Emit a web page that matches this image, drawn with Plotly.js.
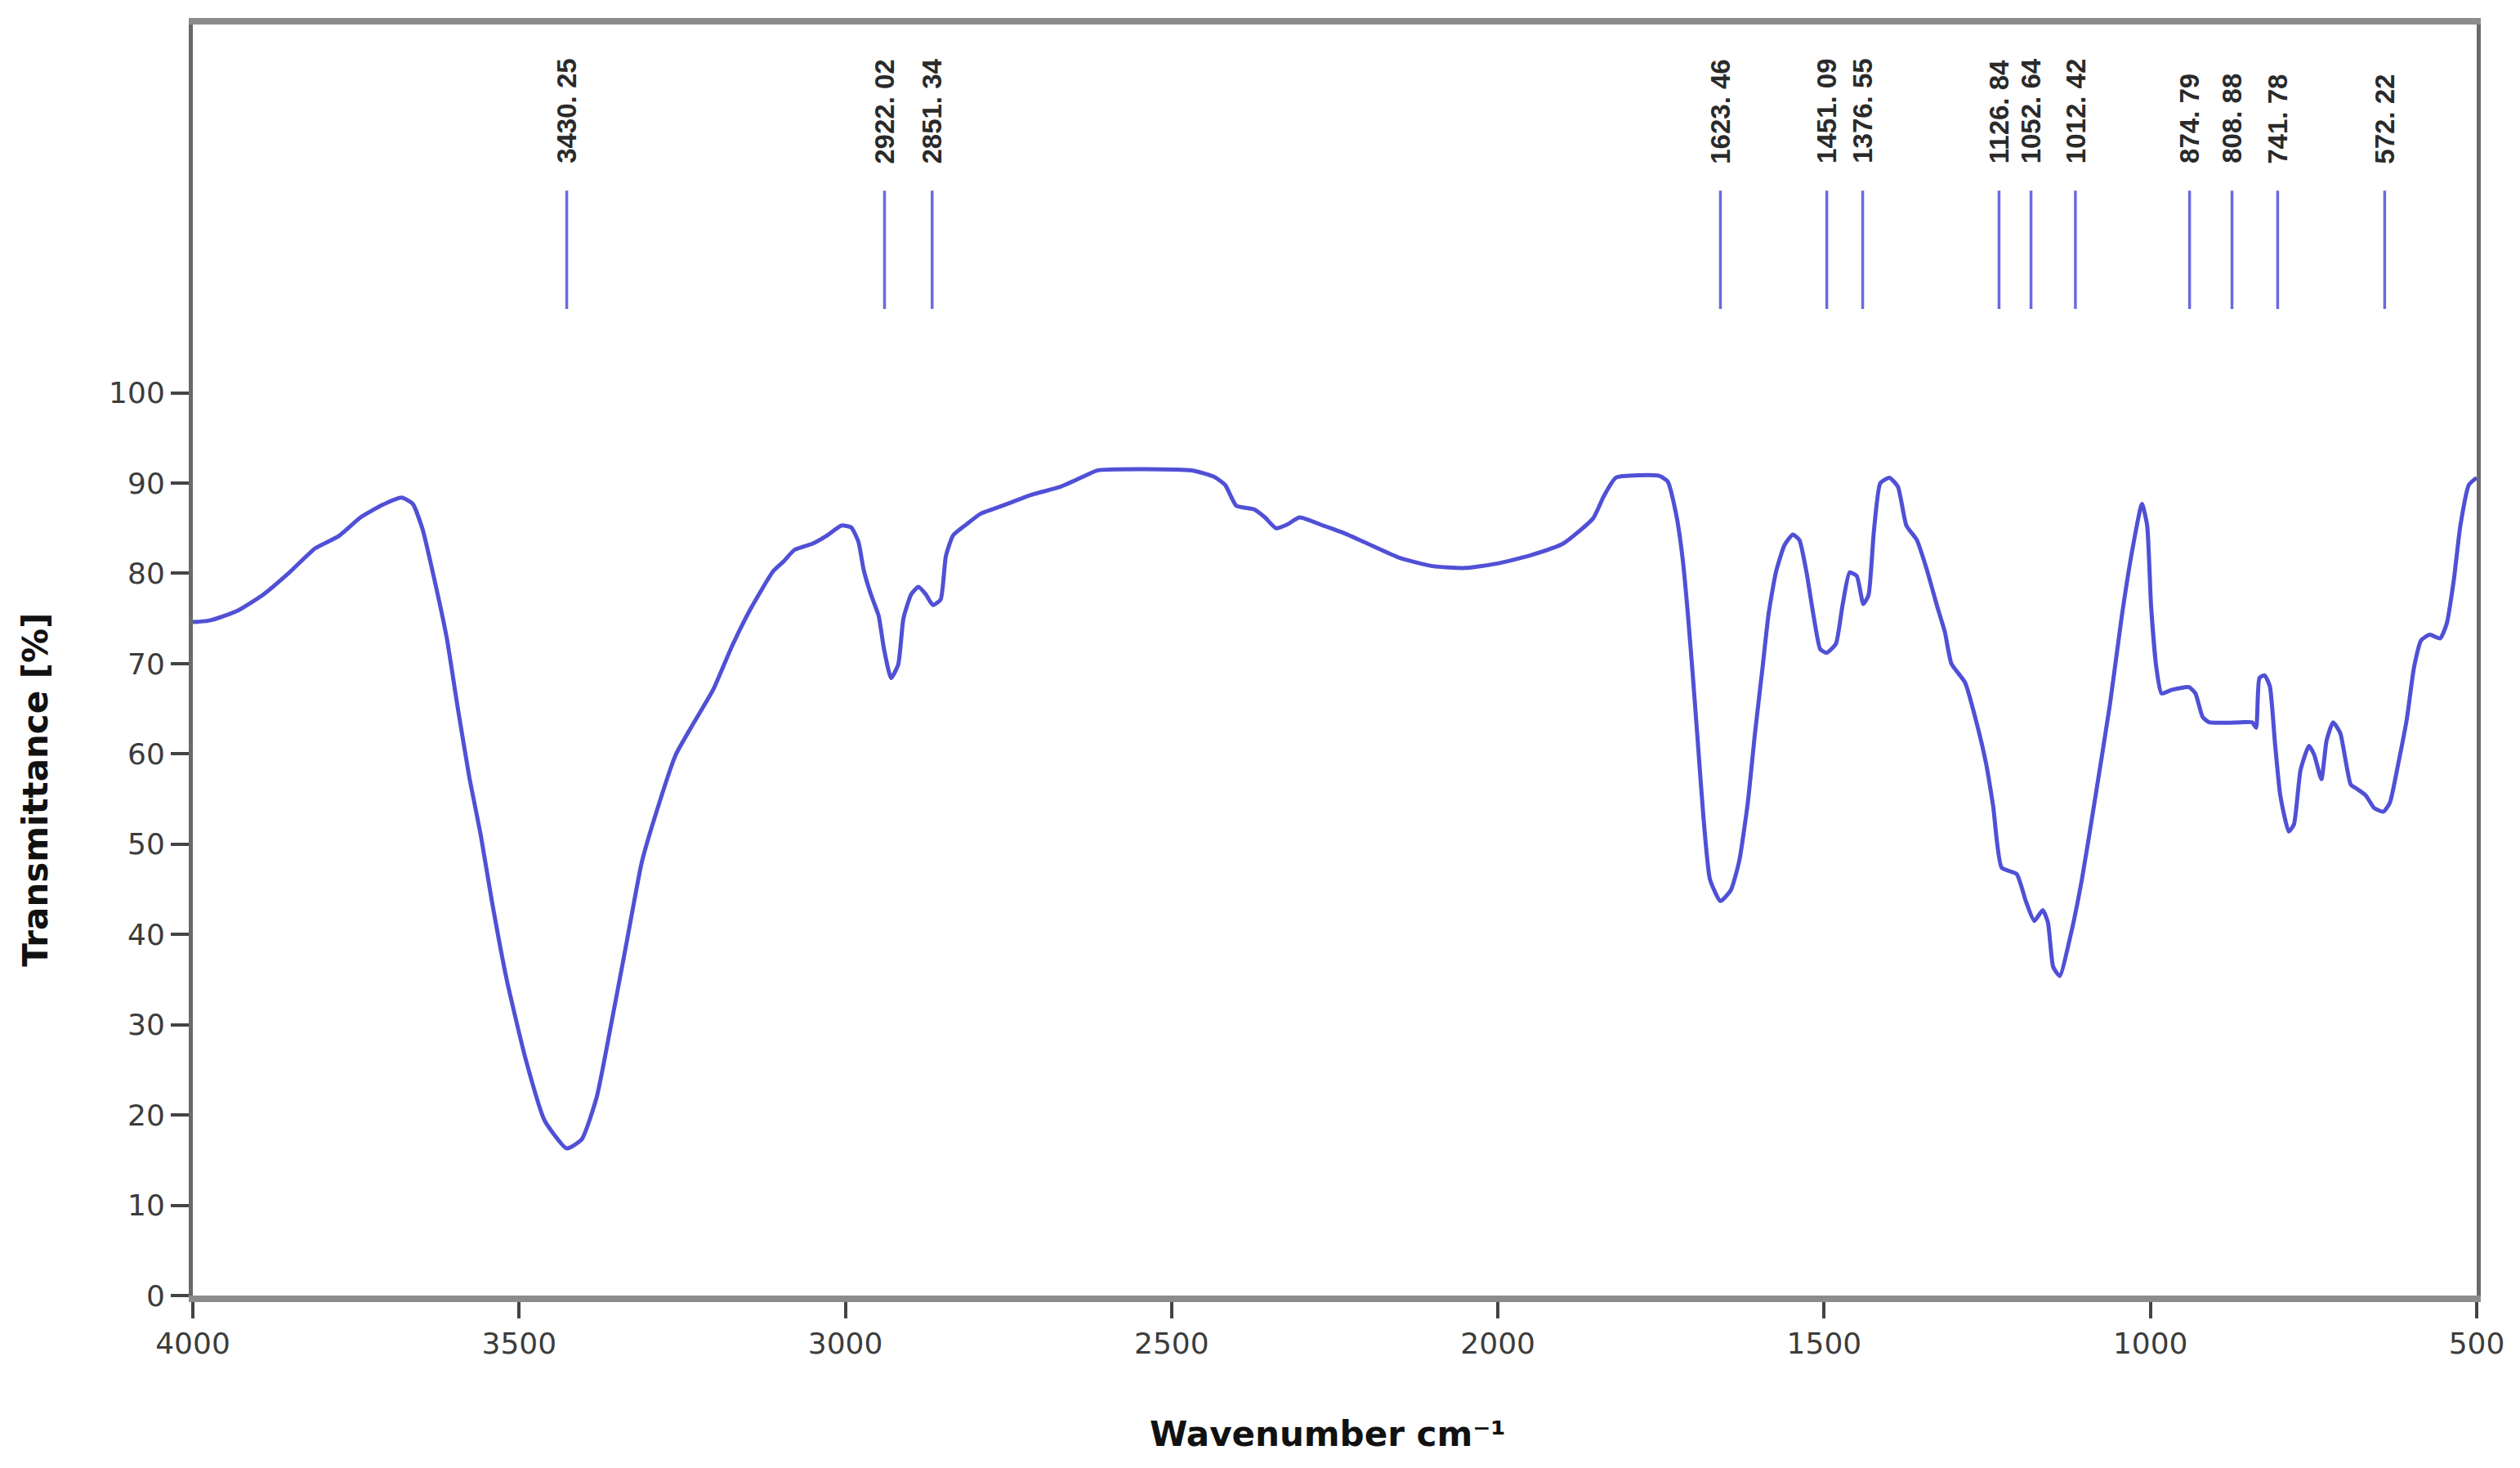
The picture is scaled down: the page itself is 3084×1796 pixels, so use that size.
<!DOCTYPE html>
<html>
<head>
<meta charset="utf-8">
<script src="https://cdn.plot.ly/plotly-3.0.1.min.js"></script>
<style>
  html, body { margin: 0; padding: 0; background: #fff; }
  #chart { width: 3084px; height: 1796px; }
</style>
</head>
<body>
<div id="chart"></div>
<script>
// FTIR spectrum (wavenumber, % transmittance)
const wavenumber = [
  4000, 3973, 3933, 3893, 3852, 3812, 3777, 3743, 3709, 3680, 3663, 3648, 3631, 3611, 3594, 3576,
  3559, 3542, 3519, 3490, 3461, 3427, 3404, 3381, 3358, 3335, 3312, 3289, 3260, 3231, 3202, 3174,
  3145, 3111, 3095, 3078, 3050, 3028, 3006, 2991, 2980, 2972, 2961, 2949, 2941, 2930, 2919, 2911,
  2899, 2888, 2877, 2866, 2854, 2846, 2835, 2815, 2793, 2759, 2715, 2670, 2636, 2614, 2469, 2435,
  2418, 2401, 2374, 2357, 2340, 2323, 2304, 2268, 2234, 2200, 2150, 2100, 2050, 2000, 1950, 1900,
  1854, 1838, 1819, 1753, 1740, 1727, 1717, 1709, 1701, 1693, 1685, 1675, 1659, 1643, 1630, 1617,
  1606, 1595, 1585, 1574, 1561, 1548, 1538, 1527, 1516, 1506, 1496, 1482, 1472, 1461, 1450, 1440,
  1432, 1424, 1414, 1400, 1387, 1374, 1358, 1343, 1327, 1315, 1305, 1284, 1268, 1252, 1241, 1228,
  1205, 1191, 1178, 1165, 1157, 1149, 1139, 1123, 1105, 1084, 1062, 1044, 1028, 1013, 1005, 999,
  991, 983, 967, 941, 931, 920, 910, 862, 844, 838, 833, 825, 817, 809, 801, 788,
  780, 770, 757, 749, 738, 730, 720, 709, 693, 683, 670, 657, 643, 633, 620, 607,
  596, 585, 572, 556, 546, 535, 525, 512, 500
];
const transmittance = [
  74.6, 74.8, 75.8, 77.6, 80.1, 82.8, 84.1, 86.2, 87.6, 88.4, 87.7, 84.9, 79.7, 72.9, 65.1, 57.3,
  51.1, 43.8, 35.0, 26.2, 19.4, 16.3, 17.3, 22.0, 30.4, 39.2, 48.0, 53.7, 59.9, 63.6, 67.2, 71.9,
  76.1, 80.2, 81.3, 82.6, 83.3, 84.2, 85.3, 85.1, 83.5, 80.4, 77.7, 75.3, 71.7, 68.4, 69.9, 75.0,
  77.7, 78.5, 77.7, 76.5, 77.1, 81.9, 84.2, 85.4, 86.6, 87.5, 88.7, 89.6, 90.7, 91.4, 91.4, 90.7,
  89.8, 87.5, 87.1, 86.2, 85.0, 85.4, 86.2, 85.3, 84.4, 83.3, 81.7, 80.8, 80.6, 81.1, 82.0, 83.3,
  86.1, 88.5, 90.6, 90.8, 90.2, 86.6, 81.7, 75.6, 68.4, 60.7, 53.0, 46.1, 43.7, 44.9, 48.2, 54.6,
  62.3, 69.2, 75.6, 80.1, 83.1, 84.3, 83.7, 80.1, 75.2, 71.6, 71.2, 72.2, 76.4, 80.1, 79.7, 76.6,
  77.6, 84.5, 90.0, 90.6, 89.6, 85.3, 83.7, 80.5, 76.4, 73.5, 70.0, 67.9, 63.9, 59.0, 54.2, 47.4,
  46.7, 43.7, 41.5, 42.7, 41.3, 36.4, 35.4, 39.7, 46.1, 55.4, 65.5, 75.2, 82.5, 87.7, 85.3, 76.4,
  69.6, 66.7, 67.1, 67.4, 66.7, 64.1, 63.5, 63.5, 63.5, 62.9, 68.4, 68.7, 67.5, 61.1, 55.4, 51.4,
  52.2, 58.2, 60.9, 59.9, 57.2, 61.5, 63.5, 62.3, 56.6, 56.1, 55.4, 54.0, 53.6, 54.6, 59.0, 63.9,
  69.6, 72.6, 73.2, 72.8, 74.4, 79.3, 85.3, 89.8, 90.6
];

// peak markers: where the bars sit on the drawn axis, and the labels printed above them
const peakPositions = [3427, 2940, 2867, 1659, 1496, 1441, 1232, 1183, 1115, 940, 875, 805, 641];
const peakLabels = ['3430. 25', '2922. 02', '2851. 34', '1623. 46', '1451. 09', '1376. 55',
  '1126. 84', '1052. 64', '1012. 42', '874. 79', '808. 88', '741. 78', '572. 22'];

const yTicks = [0, 10, 20, 30, 40, 50, 60, 70, 80, 90, 100];
const xTicks = [4000, 3500, 3000, 2500, 2000, 1500, 1000, 500];

// marker bars: one segment per peak, null breaks between them
const barX = [], barY = [];
peakPositions.forEach(p => {
  barX.push(p, p, null);
  barY.push(109.3, 122.4, null);
});

const traces = [
  {
    x: wavenumber, y: transmittance,
    type: 'scatter', mode: 'lines',
    line: { color: '#5050d6', width: 5, shape: 'spline', smoothing: 0.5 },
    hoverinfo: 'none'
  },
  {
    x: barX, y: barY,
    type: 'scatter', mode: 'lines',
    line: { color: '#6a6ae0', width: 3.5 },
    hoverinfo: 'none'
  }
];

const annotations = peakLabels.map((t, i) => ({
  x: peakPositions[i], y: 125.2,
  xref: 'x', yref: 'y',
  text: t, textangle: -90,
  showarrow: false,
  xanchor: 'center', yanchor: 'bottom',
  font: { family: 'Liberation Sans, Arial, sans-serif', size: 33, color: '#2a2a2a', weight: 'bold' }
}));

// axis titles as annotations so they sit where the original has them
annotations.push({
  x: -0.069, y: 56, xref: 'paper', yref: 'y',
  text: 'Transmittance [%]', textangle: -90, showarrow: false,
  xanchor: 'center', yanchor: 'middle',
  font: { family: 'DejaVu Sans, sans-serif', size: 42, color: '#111', weight: 'bold' }
});
annotations.push({
  x: 0.497, y: -0.109, xref: 'paper', yref: 'paper',
  text: 'Wavenumber cm⁻¹', showarrow: false,
  xanchor: 'center', yanchor: 'middle',
  font: { family: 'DejaVu Sans, sans-serif', size: 42, color: '#111', weight: 'bold' }
});

const layout = {
  width: 3084, height: 1796,
  paper_bgcolor: '#fff', plot_bgcolor: '#fff',
  showlegend: false,
  margin: { l: 236, r: 53, t: 30, b: 211, pad: 0 },
  xaxis: {
    range: [4000, 500],
    tickvals: xTicks,
    ticks: 'outside', ticklen: 20, tickwidth: 4, tickcolor: '#444',
    showgrid: false, zeroline: false,
    showline: true, linecolor: '#8c8c8c', linewidth: 8, mirror: true,
    tickfont: { family: 'DejaVu Sans, sans-serif', size: 36, color: '#3c3c3c' }
  },
  yaxis: {
    range: [0, 140.8],
    tickvals: yTicks,
    ticks: 'outside', ticklen: 22, tickwidth: 4, tickcolor: '#444',
    showgrid: false, zeroline: false,
    showline: true, linecolor: '#6a6a6a', linewidth: 5, mirror: true,
    tickfont: { family: 'DejaVu Sans, sans-serif', size: 36, color: '#3c3c3c' }
  },
  annotations: annotations
};

Plotly.newPlot('chart', traces, layout, { displayModeBar: false, staticPlot: true });
</script>
</body>
</html>
